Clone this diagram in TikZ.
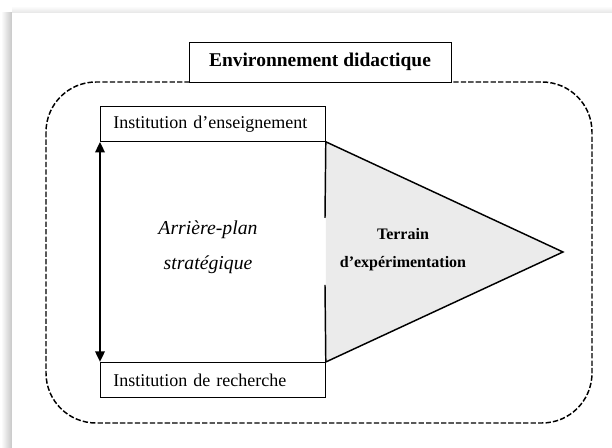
\documentclass[tikz,border=0pt]{standalone}
\usepackage{fontspec}
\setmainfont{Liberation Serif}
\usetikzlibrary{arrows.meta}

\tikzset{
  instbox/.style={draw, fill=white, anchor=north west, inner xsep=9.75pt, inner ysep=0pt,
    text width=149.25pt, minimum height=26.25pt, align=left, line width=0.6pt},
  terrain/.style={fill=black!8},
}

\begin{document}
\begin{tikzpicture}[x=0.75pt, y=-0.75pt, line join=miter, font=\fontsize{13.5}{16}\selectfont]
		\useasboundingbox (0,0) rectangle (612,448);
		% page and its shadow
		\shade[left color=white, right color=black!22] (1,13) rectangle (12,448);
		\shade[top color=white, bottom color=black!10] (12,6) rectangle (612,13);
		\fill[white] (12,13) rectangle (612,448);
		
		% Environment
		\draw[dash pattern=on 4pt off 1.6pt, line width=1.1pt, rounded corners=37.5pt] (46,82) rectangle (592,423);
		\node[draw, fill=white, minimum width=196.5pt, minimum height=30pt, line width=0.6pt, font=\bfseries\fontsize{14.6}{17}\selectfont] (env) at (320,62) {Environnement didactique};
		
		% Institutions
		\node[instbox] (ens) at (100,106) {Institution d’enseignement};
		\node[instbox] (rech) at (100,362) {Institution de recherche};
		
		% Terrain
		\coordinate (tip) at (563,252);
		\coordinate (gaphaut) at (325,218);
		\coordinate (gapbas) at (325,285);
		\fill[terrain] (ens.south east) -- (tip) -- (rech.north east) -- cycle;
		\draw[line width=1.1pt] (ens.south east) -- (tip) -- (rech.north east);
		\draw[line width=1.1pt] (ens.south east) -- (gaphaut);
		\draw[line width=1.1pt] (gapbas) -- (rech.north east);
		\node[align=center, font=\bfseries\fontsize{12}{21}\selectfont] (terr) at (403,250) {Terrain\\d’expérimentation};
		
		% Arriere-plan
		\draw[{Triangle[length=8pt,width=7pt]}-{Triangle[length=8pt,width=7pt]}, line width=1.8pt] (ens.south west) -- (rech.north west);
		\node[align=center, font=\itshape\fontsize{14.8}{26.25}\selectfont] (plan) at (208,247) {Arrière-plan\\stratégique};
	\end{tikzpicture}
\end{document}
